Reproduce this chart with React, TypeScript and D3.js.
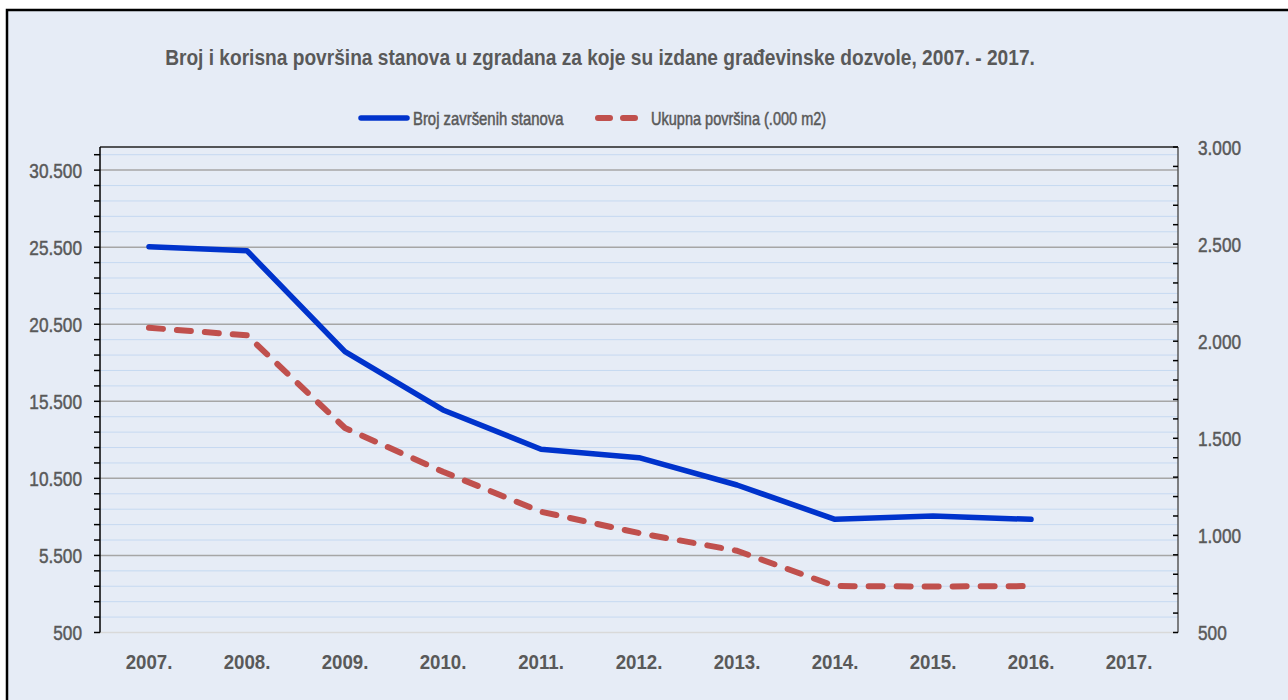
import React from 'react';
import * as d3 from 'd3';

const years = ['2007.', '2008.', '2009.', '2010.', '2011.', '2012.', '2013.', '2014.', '2015.', '2016.', '2017.'];
// Broj završenih stanova (left axis)
const flats = [25530, 25270, 18720, 14940, 12390, 11840, 10070, 7840, 8060, 7840];
// Ukupna površina (.000 m2) (right axis)
const area = [2069, 2030, 1553, 1328, 1122, 1012, 921, 739, 737, 739];
const leftTicks = [500, 5500, 10500, 15500, 20500, 25500, 30500];
const rightTicks = [500, 1000, 1500, 2000, 2500, 3000];

const title = 'Broj i korisna površina stanova u zgradana za koje su izdane građevinske dozvole, 2007. - 2017.';
const seriesNames = ['Broj završenih stanova', 'Ukupna površina (.000 m2)'];

const W = 1288;
const H = 700;
const margin = { top: 147, right: 110, bottom: 67.5, left: 100 };
const FONT = "'Liberation Sans', Arial, sans-serif";
const TEXT = '#595959';
const BLUE = '#0033cc';
const RED = '#c0504d';

const fmt = (v: number) => d3.format(',')(v).replace(/,/g, '.');

// the source uses a condensed face, so squeeze the text horizontally
const NarrowText = ({ x, y, sx, children, ...rest }: any) => (
  <text transform={`translate(${x},${y}) scale(${sx},1)`} {...rest}>
    {children}
  </text>
);

export default function App() {
  const innerW = W - margin.left - margin.right;
  const innerH = H - margin.top - margin.bottom;

  const x = d3.scaleBand<string>().domain(years).range([0, innerW]);
  const yL = d3.scaleLinear().domain([500, 32000]).range([innerH, 0]);
  const yR = d3.scaleLinear().domain([500, 3000]).range([innerH, 0]);
  const cx = (i: number) => (x(years[i]) ?? 0) + x.bandwidth() / 2;

  const leftMinor = d3.range(1500, 32000, 1000).filter(v => !leftTicks.includes(v));
  const rightMinor = d3.range(600, 3000, 100).filter(v => !rightTicks.includes(v));

  const flatsLine = d3.line<number>().x((_, i) => cx(i)).y(d => yL(d))(flats) ?? '';
  const areaLine = d3.line<number>().x((_, i) => cx(i)).y(d => yR(d))(area) ?? '';

  // medium-weight text: regular face with a thin outline
  const medium = { stroke: TEXT, strokeWidth: 0.5 };

  return (
    <div style={{ position: 'absolute', left: 0, top: 0 }}>
      <svg width={W} height={H} style={{ display: 'block', fontFamily: FONT }}>
        <rect x={0} y={0} width={W} height={H} fill="#ffffff" />
        <rect x={7} y={10} width={W + 20} height={H + 20} fill="#e6ecf6" stroke="#000" strokeWidth={2.5} />

        <NarrowText x={600} y={65} sx={0.87} textAnchor="middle" fill={TEXT} fontSize={22} fontWeight="bold">
          {title}
        </NarrowText>

        {/* legend */}
        <g transform="translate(0,118)">
          <line x1={361} x2={407} y1={0} y2={0} stroke={BLUE} strokeWidth={5.5} strokeLinecap="round" />
          <NarrowText x={413} y={6.5} sx={0.85} fill={TEXT} fontSize={17.5} {...medium}>{seriesNames[0]}</NarrowText>
          <line x1={598} x2={635} y1={0} y2={0} stroke={RED} strokeWidth={6} strokeLinecap="round" strokeDasharray="12 13" />
          <NarrowText x={651} y={6.5} sx={0.83} fill={TEXT} fontSize={17.5} {...medium}>{seriesNames[1]}</NarrowText>
        </g>

        <g transform={`translate(${margin.left},${margin.top})`}>
          {/* gridlines */}
          {leftMinor.map(v => (
            <line key={'m' + v} x1={0} x2={innerW} y1={yL(v)} y2={yL(v)} stroke="#c6d9f1" strokeWidth={1} />
          ))}
          {leftTicks.slice(1).map(v => (
            <line key={'g' + v} x1={0} x2={innerW} y1={yL(v)} y2={yL(v)} stroke="#a6a6a6" strokeWidth={1.5} />
          ))}
          <line x1={0} x2={innerW} y1={innerH} y2={innerH} stroke="#d9d9d9" strokeWidth={1.5} />
          <line x1={0} x2={innerW} y1={0} y2={0} stroke="#222" strokeWidth={1.5} />

          {/* left axis */}
          <line x1={0} x2={0} y1={0} y2={innerH} stroke="#000" strokeWidth={1.5} />
          {[...leftTicks, ...leftMinor].map(v => (
            <line key={'lt' + v} x1={-6} x2={0} y1={yL(v)} y2={yL(v)} stroke="#000" strokeWidth={1.5} />
          ))}
          {leftTicks.map(v => (
            <NarrowText key={'ll' + v} x={-18} y={yL(v) + 7.5} sx={0.82} textAnchor="end" fill={TEXT} fontSize={21} {...medium}>
              {fmt(v)}
            </NarrowText>
          ))}

          {/* right axis */}
          <line x1={innerW} x2={innerW} y1={0} y2={innerH} stroke="#595959" strokeWidth={1.5} />
          {[...rightTicks, ...rightMinor].map(v => (
            <line key={'rt' + v} x1={innerW - 5} x2={innerW} y1={yR(v)} y2={yR(v)} stroke="#000" strokeWidth={1.5} />
          ))}
          {rightTicks.map(v => (
            <NarrowText key={'rl' + v} x={innerW + 20} y={yR(v) + 7.5} sx={0.82} textAnchor="start" fill={TEXT} fontSize={21} {...medium}>
              {fmt(v)}
            </NarrowText>
          ))}

          {/* x axis labels */}
          {years.map(yv => (
            <NarrowText key={yv} x={(x(yv) ?? 0) + x.bandwidth() / 2} y={innerH + 36} sx={0.89} textAnchor="middle" fill={TEXT} fontSize={21} fontWeight="bold">
              {yv}
            </NarrowText>
          ))}

          {/* series */}
          <path d={areaLine} fill="none" stroke={RED} strokeWidth={6} strokeLinecap="round" strokeLinejoin="round" strokeDasharray="14 14" />
          <path d={flatsLine} fill="none" stroke={BLUE} strokeWidth={5.5} strokeLinecap="round" strokeLinejoin="round" />
        </g>
      </svg>
    </div>
  );
}
